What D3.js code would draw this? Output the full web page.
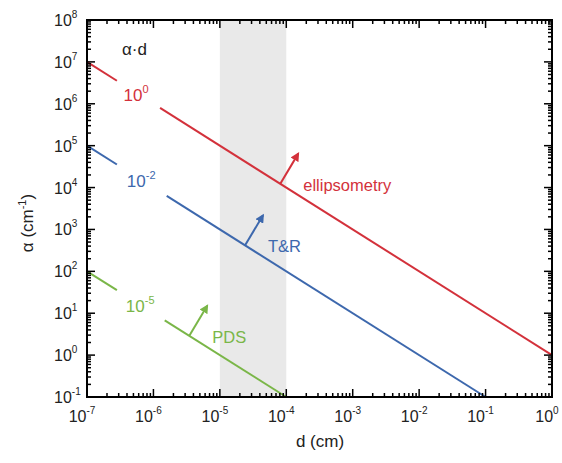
<!DOCTYPE html>
<html><head><meta charset="utf-8">
<script src="https://cdn.jsdelivr.net/npm/d3@7"></script>
<style>body{margin:0;background:#fff}svg{display:block;font-family:Arial,"Liberation Sans",sans-serif}</style>
</head><body><svg id="c" width="562" height="463"></svg>
<script>
// ---- data ----
const xDomain = [1e-7, 1];
const yDomain = [1e-1, 1e8];
const xTickExps = [-7, -6, -5, -4, -3, -2, -1, 0];
const yTickExps = [-1, 0, 1, 2, 3, 4, 5, 6, 7, 8];
const bandRange = [1e-5, 1e-4];
const seriesNames = ["ellipsometry", "T&R", "PDS"];
const alphaD = [1, 1e-2, 1e-5];            // alpha*d constant
const labelExps = ["0", "-2", "-5"];
const dEnd = [1, 1e-1, 1e-4];             // line end (d)
const gapLogStart = [-6.55, -6.55, -6.55]; // gap for label (log10 d)
const gapLogEnd = [-5.90, -5.80, -5.83];
const arrowLogD = [-4.09, -4.62, -5.46];  // arrow tail position (log10 d)
const colors = ["#d3313b", "#3d68ad", "#7ab648"];

// ---- layout ----
const svg = d3.select("#c");
const L = 87, R = 552, T = 20, B = 397;
const x = d3.scaleLog().domain(xDomain).range([L, R]);
const y = d3.scaleLog().domain(yDomain).range([B, T]);

// band
svg.append("rect").attr("x", x(bandRange[0])).attr("y", T)
  .attr("width", x(bandRange[1]) - x(bandRange[0])).attr("height", B - T)
  .attr("fill", "#e9e9e9");

// defs arrowheads
const defs = svg.append("defs");
colors.forEach((c, i) => {
  defs.append("marker").attr("id", "ah" + i).attr("viewBox", "0 0 10 10")
    .attr("refX", 8).attr("refY", 5).attr("markerWidth", 4.5).attr("markerHeight", 4.5)
    .attr("orient", "auto").attr("markerUnits", "strokeWidth")
    .append("path").attr("d", "M0,0 L10,5 L0,10 z").attr("fill", c);
});

// lines
const line = d3.line().x(d => x(d[0])).y(d => y(d[1]));
alphaD.forEach((k, i) => {
  const g0 = Math.pow(10, gapLogStart[i]), g1 = Math.pow(10, gapLogEnd[i]);
  const segs = [[[xDomain[0], k / xDomain[0]], [g0, k / g0]], [[g1, k / g1], [dEnd[i], k / dEnd[i]]]];
  segs.forEach(s => svg.append("path").attr("d", line(s)).attr("stroke", colors[i])
    .attr("stroke-width", 2).attr("fill", "none"));
  // arrow
  const d0 = Math.pow(10, arrowLogD[i]);
  const d1 = Math.pow(10, arrowLogD[i] + 0.27);
  const a1 = (k / d0) * Math.pow(10, 0.72);
  svg.append("line").attr("x1", x(d0)).attr("y1", y(k / d0)).attr("x2", x(d1)).attr("y2", y(a1))
    .attr("stroke", colors[i]).attr("stroke-width", 2).attr("marker-end", "url(#ah" + i + ")");
  // name label
  svg.append("text").attr("x", x(d1) + 5).attr("y", y(k / d0) + 7)
    .attr("fill", colors[i]).attr("font-size", 16.5).text(seriesNames[i]);
  // alpha*d label
  const lg = (gapLogStart[i] + gapLogEnd[i]) / 2;
  const dm = Math.pow(10, lg);
  const t = svg.append("text").attr("x", x(dm) - 15).attr("y", y(k / dm) + 7)
    .attr("fill", colors[i]).attr("font-size", 17);
  t.append("tspan").text("10");
  t.append("tspan").attr("dy", -8).attr("font-size", 11).text(labelExps[i]);
});

svg.append("text").attr("x", 122).attr("y", 55).attr("font-size", 17).attr("fill", "#222").text("α·d");

// ticks
const tk = svg.append("g").attr("stroke", "#000").attr("stroke-width", 1.5);
function minors(lo, hi) { const a = []; for (let e = lo; e < hi; e++) for (let m = 2; m <= 9; m++) a.push(m * Math.pow(10, e)); return a; }
xTickExps.forEach(e => { const v = Math.pow(10, e), px = x(v);
  tk.append("line").attr("x1", px).attr("x2", px).attr("y1", B).attr("y2", B - 8);
  tk.append("line").attr("x1", px).attr("x2", px).attr("y1", T).attr("y2", T + 8); });
minors(-7, 0).forEach(v => { const px = x(v);
  tk.append("line").attr("x1", px).attr("x2", px).attr("y1", B).attr("y2", B - 4);
  tk.append("line").attr("x1", px).attr("x2", px).attr("y1", T).attr("y2", T + 4); });
yTickExps.forEach(e => { const v = Math.pow(10, e), py = y(v);
  tk.append("line").attr("y1", py).attr("y2", py).attr("x1", L).attr("x2", L + 8);
  tk.append("line").attr("y1", py).attr("y2", py).attr("x1", R).attr("x2", R - 8); });
minors(-1, 8).forEach(v => { const py = y(v);
  tk.append("line").attr("y1", py).attr("y2", py).attr("x1", L).attr("x2", L + 4);
  tk.append("line").attr("y1", py).attr("y2", py).attr("x1", R).attr("x2", R - 4); });

// frame
svg.append("rect").attr("x", L).attr("y", T).attr("width", R - L).attr("height", B - T)
  .attr("fill", "none").attr("stroke", "#000").attr("stroke-width", 2);

// tick labels
xTickExps.forEach(e => {
  const t = svg.append("text").attr("x", x(Math.pow(10, e)) - 5).attr("y", 422)
    .attr("text-anchor", "middle").attr("font-size", 16).attr("fill", "#222");
  t.append("tspan").text("10");
  t.append("tspan").attr("dy", -8).attr("font-size", 10).text(String(e));
});
yTickExps.forEach(e => {
  const t = svg.append("text").attr("x", 54).attr("y", y(Math.pow(10, e)) + 6)
    .attr("font-size", 16).attr("fill", "#222");
  t.append("tspan").text("10");
  t.append("tspan").attr("dy", -8).attr("font-size", 10).text(String(e));
});

// axis titles
svg.append("text").attr("x", 320).attr("y", 447).attr("text-anchor", "middle")
  .attr("font-size", 17).attr("fill", "#222").text("d (cm)");
const yt = svg.append("text").attr("transform", "translate(33,223) rotate(-90)")
  .attr("text-anchor", "middle").attr("font-size", 17).attr("fill", "#222");
yt.append("tspan").text("α (cm");
yt.append("tspan").attr("dy", -7).attr("font-size", 11).text("-1");
yt.append("tspan").attr("dy", 7).text(")");
</script></body></html>
